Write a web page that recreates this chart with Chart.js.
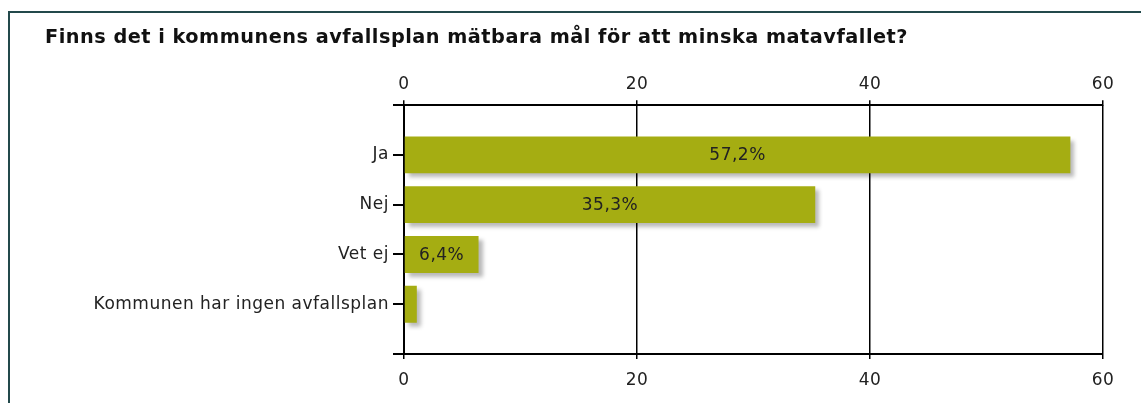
<!DOCTYPE html>
<html>
<head>
<meta charset="utf-8">
<script src="https://cdn.jsdelivr.net/npm/chart.js@4/dist/chart.umd.min.js"></script>
<style>
  html, body { margin: 0; padding: 0; background: #fff; }
  #wrap { position: relative; width: 1141px; height: 403px; overflow: hidden; }
  #frame { position: absolute; left: 8px; top: 11px; width: 2000px; height: 1000px;
           border-left: 2px solid #23494b; border-top: 2px solid #23494b; }
  #c { position: absolute; left: 0; top: 0; }
</style>
</head>
<body>
<div id="wrap">
  <div id="frame"></div>
  <canvas id="c" width="1141" height="403"></canvas>
</div>
<script>
const titleText = 'Finns det i kommunens avfallsplan mätbara mål för att minska matavfallet?';
const categories = ['Ja', 'Nej', 'Vet ej', 'Kommunen har ingen avfallsplan'];
const values = [57.2, 35.3, 6.4, 1.1];
const valueLabels = ['57,2%', '35,3%', '6,4%', '1,1%'];
const xTicks = [0, 20, 40, 60];

const FONT = 'DejaVu Sans';
const labels = [''].concat(categories, ['']);
const data = [null].concat(values, [null]);
const labelMap = [null].concat(valueLabels, [null]);

const spacingPlugin = {
  id: 'spacing',
  beforeDraw(chart) { try { chart.ctx.letterSpacing = '0.5px'; } catch (e) {} }
};

const shadowPlugin = {
  id: 'barShadow',
  beforeDatasetsDraw(chart) {
    const ctx = chart.ctx;
    ctx.save();
    ctx.shadowColor = 'rgba(0,0,0,0.28)';
    ctx.shadowOffsetX = 4;
    ctx.shadowOffsetY = 4;
    ctx.shadowBlur = 4;
  },
  afterDatasetsDraw(chart) {
    const ctx = chart.ctx;
    ctx.restore();
    const meta = chart.getDatasetMeta(0);
    ctx.save();
    ctx.font = '17px "' + FONT + '"';
    ctx.fillStyle = '#222';
    ctx.textAlign = 'center';
    ctx.textBaseline = 'middle';
    meta.data.forEach((el, i) => {
      const t = labelMap[i];
      if (t == null || data[i] == null) return;
      const w = ctx.measureText(t).width;
      const barW = Math.abs(el.x - el.base);
      if (barW < w + 8) return;
      ctx.fillText(t, (el.x + el.base) / 2, el.y + 1);
    });
    ctx.restore();
  }
};

new Chart(document.getElementById('c'), {
  type: 'bar',
  data: {
    labels: labels,
    datasets: [{
      data: data,
      backgroundColor: '#a5ad12',
      borderWidth: 0,
      categoryPercentage: 0.74,
      barPercentage: 1.0
    }]
  },
  options: {
    indexAxis: 'y',
    responsive: false,
    animation: false,
    devicePixelRatio: 1,
    layout: { padding: { left: 45, right: 38, top: 0, bottom: 0 } },
    plugins: {
      legend: { display: false },
      tooltip: { enabled: false },
      title: {
        display: true,
        text: titleText,
        align: 'start',
        color: '#111',
        font: { family: FONT, size: 19.3, weight: 'bold', lineHeight: 1.2 },
        padding: { top: 26, bottom: 7 }
      }
    },
    scales: {
      x: {
        type: 'linear',
        position: 'bottom',
        min: 0, max: 60,
        afterBuildTicks: (s) => { s.ticks = xTicks.map(v => ({ value: v })); },
        afterFit: (s) => { s.height = 49; },
        ticks: { color: '#222', font: { family: FONT, size: 17 }, padding: 11 },
        grid: { color: '#000', lineWidth: 1.5, tickLength: 5, drawTicks: true },
        border: { display: true, color: '#000', width: 2 }
      },
      x2: {
        type: 'linear',
        axis: 'x',
        position: 'top',
        min: 0, max: 60,
        afterBuildTicks: (s) => { s.ticks = xTicks.map(v => ({ value: v })); },
        afterFit: (s) => { s.height = 49; },
        ticks: { color: '#222', font: { family: FONT, size: 17 }, padding: 5 },
        grid: { color: '#000', lineWidth: 1.5, tickLength: 5, drawTicks: true, drawOnChartArea: false },
        border: { display: true, color: '#000', width: 2 }
      },
      y: {
        type: 'category',
        offset: false,
        afterFit: (s) => { s.width = 404 - 45; },
        ticks: { color: '#222', font: { family: FONT, size: 17 }, padding: 4, autoSkip: false },
        grid: { offset: false, drawOnChartArea: false, drawTicks: true, tickLength: 11, color: '#000', lineWidth: 2 },
        border: { display: true, color: '#000', width: 2 }
      }
    }
  },
  plugins: [spacingPlugin, shadowPlugin]
});
</script>
</body>
</html>
